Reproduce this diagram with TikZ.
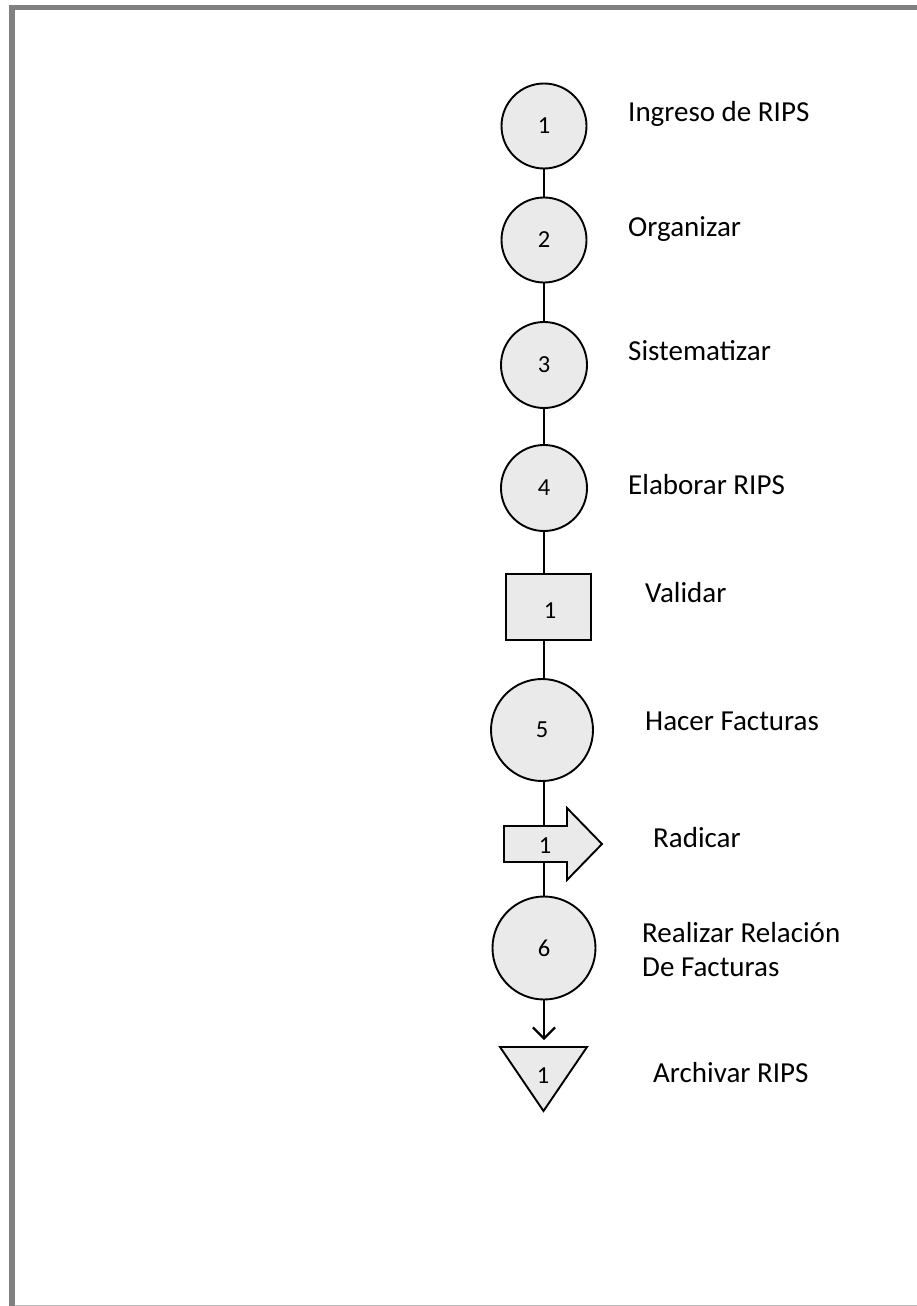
\documentclass[tikz,border=0pt]{standalone}
\usepackage{fontspec}
\setmainfont{Carlito}
\usetikzlibrary{arrows.meta,backgrounds}
\definecolor{framegray}{RGB}{128,128,128}
\definecolor{edgegray}{RGB}{190,190,190}
\definecolor{shapefill}{RGB}{234,234,234}
\tikzset{
  proc/.style={circle,draw=black,line width=1.9pt,fill=shapefill,inner sep=0pt,minimum size=#1,font=\fontsize{24.5}{28}\selectfont},
  inspbox/.style={rectangle,draw=black,line width=1.9pt,fill=shapefill,inner sep=0pt,minimum width=85pt,minimum height=66pt},
  shapeline/.style={draw=black,line width=1.9pt,fill=shapefill,line join=miter},
  numlbl/.style={inner sep=0pt,font=\fontsize{24.5}{28}\selectfont},
  desc/.style={anchor=base west,inner sep=0pt,font=\fontsize{29}{34}\selectfont,align=left},
  conn/.style={line width=2.3pt,draw=black}
}
\begin{document}
\begin{tikzpicture}[x=1pt,y=-1pt]
\useasboundingbox (0,0) rectangle (917,1306);
% page frame
\fill[framegray] (9,5) rectangle (14.5,1306);
\fill[framegray] (9,5) rectangle (917,10.5);
\draw[edgegray,line width=1pt] (14.5,1305.5) -- (917,1305.5);

% shapes
\node[proc=85pt] (c1) at (544,126) {1};
\node[proc=85pt] (c2) at (544,240) {2};
\node[proc=86pt] (c3) at (544,365) {3};
\node[proc=86pt] (c4) at (544,488) {4};
\node[inspbox] (r1) at (548.5,607) {};
\node[numlbl] (r1n) at (550,611) {1};
\node[proc=102pt] (c5) at (542,730) {5};
\coordinate (a1) at (553,844);
\draw[shapeline] (504,826) -- (567,826) -- (567,808) -- (602,844) -- (567,880) -- (567,862) -- (504,862) -- cycle;
\node[numlbl] (a1n) at (545,846) {1};
\node[proc=103pt] (c6) at (544,948) {6};
\coordinate (ttop) at (544,1040);
\draw[shapeline] (500,1047) -- (587,1047) -- (543.5,1111) -- cycle;
\node[numlbl] (t1n) at (543,1076) {1};

% connectors
\begin{scope}[on background layer]
\draw[conn] (c1) -- (c2);
\draw[conn] (c2) -- (c3);
\draw[conn] (c3) -- (c4);
\draw[conn] (c4.south) -- (c4.south |- r1.north);
\draw[conn] (c4.south |- r1.south) -- (c4.south |- c5.north);
\draw[conn] (c6.north |- c5.south) -- (c6.north);
\end{scope}
\draw[conn,-{Straight Barb[length=11pt,width=22pt]}] (c6.south) -- (ttop);

% descriptions
\node[desc] (d1) at (628,121) {Ingreso de RIPS};
\node[desc] (d2) at (628,236) {Organizar};
\node[desc] (d3) at (628,360) {Sistematizar};
\node[desc] (d4) at (628,494) {Elaborar RIPS};
\node[desc] (d5) at (645,602) {Validar};
\node[desc] (d6) at (645,730) {Hacer Facturas};
\node[desc] (d7) at (653,847) {Radicar};
\node[desc] (d8) at (642,976) {Realizar Relación\\De Facturas};
\node[desc] (d9) at (653,1082) {Archivar RIPS};
\end{tikzpicture}
\end{document}
